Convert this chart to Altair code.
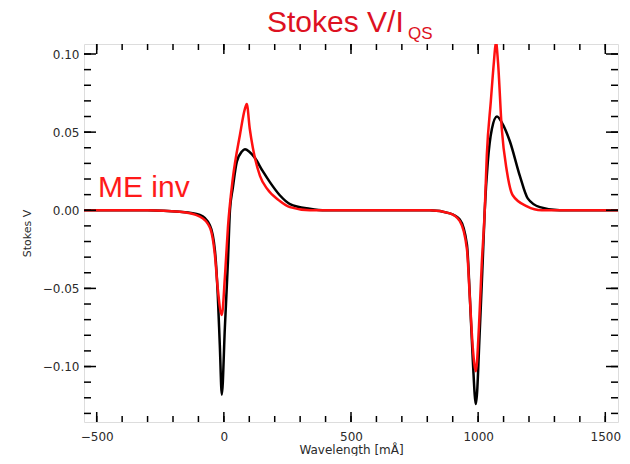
import altair as alt
import pandas as pd

# ---- data (wavelength in mÅ, Stokes V/I_QS) ----
obs_wl = [-550, -300, -173, -94, -55, -35, -24, -16, -8, 4, 16, 24, 35, 51, 71, 83, 100, 120, 153, 181, 220, 260, 338, 400,
          810, 889, 928, 956, 967, 979, 991, 1007, 1018, 1026, 1038, 1054, 1074, 1097, 1125, 1164, 1195, 1243, 1321, 1550]
obs_v = [0.0, 0.0, -0.001, -0.003, -0.0096, -0.026, -0.054, -0.086, -0.118, -0.075, -0.033, 0.0, 0.014, 0.031, 0.0376, 0.039, 0.0375, 0.034, 0.025, 0.018, 0.0096, 0.004, 0.001, 0.0,
         0.0, -0.002, -0.006, -0.022, -0.054, -0.096, -0.124, -0.075, -0.0325, 0.0, 0.031, 0.052, 0.060, 0.055, 0.044, 0.022, 0.0076, 0.002, 0.0, 0.0]

me_wl = [-550, -300, -173, -94, -55, -35, -24, -8, 4, 16, 35, 63, 83, 90, 102, 114, 142, 169, 220, 260, 338,
         810, 889, 928, 956, 967, 979, 991, 1003, 1014, 1026, 1034, 1050, 1062, 1070, 1078, 1093, 1113, 1136, 1192, 1250, 1550]
me_v = [0.0, 0.0, -0.001, -0.004, -0.011, -0.029, -0.050, -0.067, -0.043, -0.011, 0.020, 0.048, 0.065, 0.068, 0.052, 0.040, 0.022, 0.014, 0.006, 0.002, 0.0,
        0.0, -0.002, -0.007, -0.025, -0.055, -0.088, -0.103, -0.075, -0.035, 0.0, 0.035, 0.070, 0.095, 0.108, 0.095, 0.052, 0.025, 0.0096, 0.0025, 0.0, 0.0]

x_major = [-500, 0, 500, 1000, 1500]
x_minor = [-500 + 100 * i for i in range(21)]
y_major = [-0.10, -0.05, 0.0, 0.05, 0.10]
y_minor = [round(-0.13 + 0.01 * i, 2) for i in range(24)]

W, H = 534, 378
xs = alt.Scale(domain=[-550, 1550], nice=False, zero=False)
ys = alt.Scale(domain=[-0.1355, 0.1064], nice=False, zero=False)

x_axis = alt.Axis(values=x_major, format="d", title="Wavelength [mÅ]", ticks=False, tickSize=0,
                  domain=False, grid=False, labelPadding=9, titlePadding=2,
                  labelFont="DejaVu Sans", labelFontSize=12, labelColor="#2a2a2a",
                  titleFont="DejaVu Sans", titleFontSize=12, titleFontWeight="normal", titleColor="#2a2a2a")
y_axis = alt.Axis(values=y_major, format=".2f", title="Stokes V", ticks=False, tickSize=0,
                  domain=False, grid=False, labelPadding=5, titlePadding=10,
                  labelFont="DejaVu Sans", labelFontSize=12, labelColor="#2a2a2a",
                  titleFont="DejaVu Sans", titleFontSize=11, titleFontWeight="normal", titleColor="#2a2a2a")


def X(field):
    return alt.X(field, type="quantitative", scale=xs, axis=x_axis)


def Y(field):
    return alt.Y(field, type="quantitative", scale=ys, axis=y_axis)


obs = pd.DataFrame({"wl": obs_wl, "v": obs_v})
me = pd.DataFrame({"wl": me_wl, "v": me_v})

black = alt.Chart(obs).mark_line(color="black", strokeWidth=2.5, interpolate="monotone", clip=True).encode(
    x=X("wl"), y=Y("v"))
red = alt.Chart(me).mark_line(color="#ff1010", strokeWidth=2.5, interpolate="monotone", clip=True).encode(
    x=X("wl"), y=Y("v"))


def xticks(vals, ln):
    d = pd.DataFrame({"wl": vals})
    bot = alt.Chart(d).mark_rule(color="black", strokeWidth=1.5).encode(
        x=X("wl"), y=alt.value(H), y2=alt.value(H - ln))
    top = alt.Chart(d).mark_rule(color="black", strokeWidth=1.5).encode(
        x=X("wl"), y=alt.value(0), y2=alt.value(ln))
    return [bot, top]


def yticks(vals, ln):
    d = pd.DataFrame({"v": vals})
    lft = alt.Chart(d).mark_rule(color="black", strokeWidth=1.5).encode(
        y=Y("v"), x=alt.value(0), x2=alt.value(ln))
    rgt = alt.Chart(d).mark_rule(color="black", strokeWidth=1.5).encode(
        y=Y("v"), x=alt.value(W), x2=alt.value(W - ln))
    return [lft, rgt]


title_main = alt.Chart(pd.DataFrame({"t": ["Stokes V/I"]})).mark_text(
    align="left", baseline="alphabetic", font="Liberation Sans", fontSize=30, color="#dd1122").encode(
    x=alt.value(183), y=alt.value(-12), text="t:N")
title_sub = alt.Chart(pd.DataFrame({"t": ["QS"]})).mark_text(
    align="left", baseline="alphabetic", font="Liberation Sans", fontSize=17, color="#dd1122").encode(
    x=alt.value(324), y=alt.value(-5), text="t:N")
me_label = alt.Chart(pd.DataFrame({"t": ["ME inv"]})).mark_text(
    align="left", baseline="alphabetic", font="Liberation Sans", fontSize=30, color="#ff1a1a").encode(
    x=alt.value(14), y=alt.value(153), text="t:N")

layers = [black, red] + xticks(x_minor, 6) + xticks(x_major, 10) + yticks(y_minor, 7) + yticks(y_major, 12) \
    + [title_main, title_sub, me_label]

chart = alt.layer(*layers).properties(
    width=W, height=H,
    autosize=alt.AutoSizeParams(type="none"),
    padding={"left": 76, "top": 36, "right": 4, "bottom": 34},
).configure_view(stroke="black", strokeWidth=2).configure(background="white")

chart.save("out.html", embed_options={"renderer": "svg", "actions": False})
